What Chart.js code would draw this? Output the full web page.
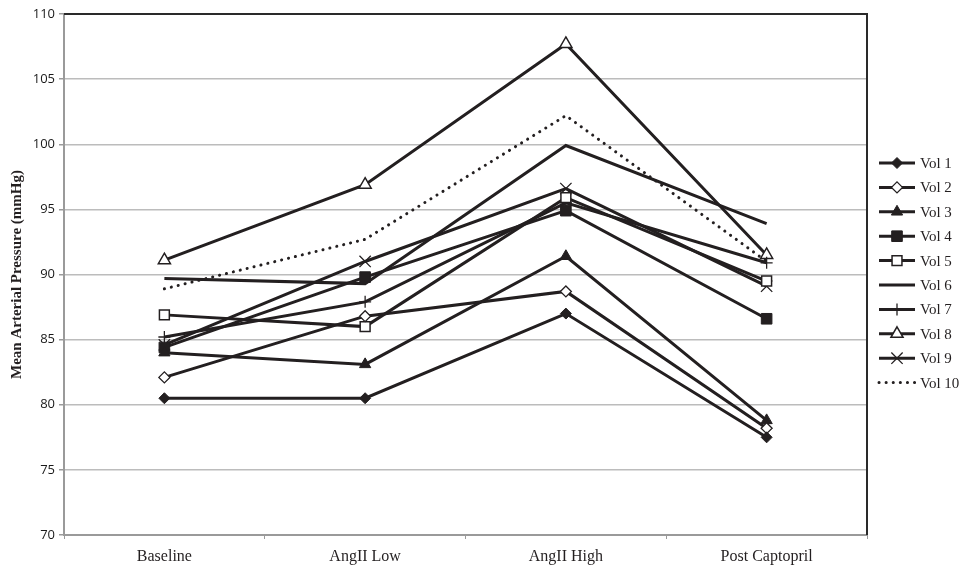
<!DOCTYPE html>
<html>
<head>
<meta charset="utf-8">
<script src="https://cdn.jsdelivr.net/npm/chart.js@4/dist/chart.umd.min.js"></script>
<style>
  html, body { margin: 0; padding: 0; background: #fff; }
  #wrap { width: 964px; height: 567px; }
</style>
</head>
<body>
<div id="wrap"><canvas id="map-chart"></canvas></div>
<script>
"use strict";

// Mean arterial pressure per volunteer
var categories = ['Baseline', 'AngII Low', 'AngII High', 'Post Captopril'];
var yTicks = [70, 75, 80, 85, 90, 95, 100, 105, 110];
var seriesNames = ['Vol 1', 'Vol 2', 'Vol 3', 'Vol 4', 'Vol 5', 'Vol 6', 'Vol 7', 'Vol 8', 'Vol 9', 'Vol 10'];

var vol1 = [80.5, 80.5, 87.0, 77.5];
var vol2 = [82.1, 86.8, 88.7, 78.2];
var vol3 = [84.0, 83.1, 91.4, 78.8];
var vol4 = [84.4, 89.8, 94.9, 86.6];
var vol5 = [86.9, 86.0, 95.9, 89.5];
var vol6 = [89.7, 89.3, 99.9, 93.9];
var vol7 = [85.2, 87.9, 95.5, 90.9];
var vol8 = [91.1, 96.9, 107.7, 91.5];
var vol9 = [84.6, 91.0, 96.6, 89.1];
var vol10 = [88.9, 92.7, 102.2, 91.0];

var ink = '#231f20';

// marker look for each volunteer (same order as seriesNames)
var markers = [
  { pointStyle: 'rectRot', radius: 5.5, fill: ink, bw: 1 },
  { pointStyle: 'rectRot', radius: 5.5, fill: '#fff', bw: 1.3 },
  { pointStyle: 'triangle', radius: 6.5, fill: ink, bw: 1 },
  { pointStyle: 'rect', radius: 7.5, fill: ink, bw: 1 },
  { pointStyle: 'rect', radius: 7, fill: '#fff', bw: 1.5 },
  { pointStyle: false, radius: 0, fill: ink, bw: 0 },
  { pointStyle: 'cross', radius: 6, fill: ink, bw: 1.3 },
  { pointStyle: 'triangle', radius: 7, fill: '#fff', bw: 1.5 },
  { pointStyle: 'crossRot', radius: 8, fill: ink, bw: 1.3 },
  { pointStyle: false, radius: 0, fill: ink, bw: 0 }
];

var values = [vol1, vol2, vol3, vol4, vol5, vol6, vol7, vol8, vol9, vol10];

var datasets = values.map(function(v, i) {
  var m = markers[i];
  return {
    label: seriesNames[i],
    data: v,
    borderColor: ink,
    borderWidth: 3,
    borderDash: i === 9 ? [0.1, 7] : [],
    borderCapStyle: i === 9 ? 'round' : 'butt',
    tension: 0,
    fill: false,
    pointStyle: m.pointStyle || 'circle',
    pointRadius: m.radius,
    pointHoverRadius: m.radius,
    pointBackgroundColor: m.fill,
    pointBorderColor: ink,
    pointBorderWidth: m.bw
  };
});

// top + right frame of the plot area
var frame = {
  id: 'frame',
  beforeDatasetsDraw: function(chart) {
    var a = chart.chartArea, ctx = chart.ctx;
    ctx.save();
    ctx.strokeStyle = '#2a2a2a';
    ctx.lineWidth = 2;
    ctx.beginPath();
    ctx.moveTo(a.left, a.top);
    ctx.lineTo(a.right, a.top);
    ctx.lineTo(a.right, a.bottom);
    ctx.stroke();
    ctx.restore();
  }
};

// legend with line segment through the marker
var sideLegend = {
  id: 'sideLegend',
  afterDraw: function(chart) {
    var ctx = chart.ctx;
    var x0 = 879, x1 = 915, xm = 897, y0 = 163, step = 24.4;
    ctx.save();
    chart.data.datasets.forEach(function(ds, i) {
      var y = y0 + i * step;
      ctx.strokeStyle = ink;
      ctx.lineWidth = ds.borderWidth;
      ctx.setLineDash(ds.borderDash);
      ctx.lineCap = ds.borderCapStyle;
      ctx.beginPath();
      ctx.moveTo(x0, y);
      ctx.lineTo(x1, y);
      ctx.stroke();
      ctx.setLineDash([]);
      ctx.lineCap = 'butt';
      if (ds.pointRadius > 0) {
        ctx.fillStyle = ds.pointBackgroundColor;
        ctx.strokeStyle = ds.pointBorderColor;
        ctx.lineWidth = ds.pointBorderWidth;
        Chart.helpers.drawPoint(ctx, {
          pointStyle: ds.pointStyle,
          radius: ds.pointRadius,
          rotation: 0,
          borderWidth: ds.pointBorderWidth
        }, xm, y);
      }
      ctx.fillStyle = ink;
      ctx.font = '15px "Liberation Serif", serif';
      ctx.textBaseline = 'middle';
      ctx.textAlign = 'left';
      ctx.fillText(ds.label, 920, y + 1);
    });
    ctx.restore();
  }
};

var ctx = document.getElementById('map-chart').getContext('2d');

var myChart = new Chart(ctx, {
  type: 'line',
  data: {
    labels: categories,
    datasets: datasets
  },
  plugins: [frame, sideLegend],
  options: {
    responsive: true,
    maintainAspectRatio: false,
    animation: false,
    devicePixelRatio: 1,
    layout: {
      padding: { top: 14, right: 97, bottom: 0, left: 0 }
    },
    plugins: {
      legend: { display: false },
      tooltip: { enabled: false }
    },
    scales: {
      x: {
        offset: true,
        grid: {
          display: true,
          offset: true,
          drawOnChartArea: false,
          drawTicks: true,
          tickLength: 4,
          tickColor: '#9a9a9a',
          tickWidth: 1
        },
        border: { display: true, color: '#9a9a9a', width: 2 },
        ticks: {
          color: ink,
          padding: 8,
          font: { family: '"Liberation Serif", serif', size: 16 }
        },
        afterFit: function(scale) { scale.height = 32; }
      },
      y: {
        min: 70,
        max: 110,
        afterBuildTicks: function(scale) {
          scale.ticks = yTicks.map(function(v) { return { value: v }; });
        },
        grid: {
          color: '#bcbcbc',
          lineWidth: 1.5,
          drawTicks: true,
          tickLength: 5,
          tickColor: '#9a9a9a',
          tickWidth: 1.5
        },
        border: { display: true, color: '#9a9a9a', width: 2 },
        ticks: {
          color: '#1a1a1a',
          padding: 4,
          font: { family: '"Open Sans", sans-serif', size: 13 }
        },
        title: {
          display: true,
          text: 'Mean Arterial Pressure (mmHg)',
          color: ink,
          padding: { top: 8, bottom: 0 },
          font: { family: '"Liberation Serif", serif', size: 15, weight: 'bold' }
        },
        afterFit: function(scale) { scale.width = 64; }
      }
    }
  }
});
</script>
</body>
</html>
